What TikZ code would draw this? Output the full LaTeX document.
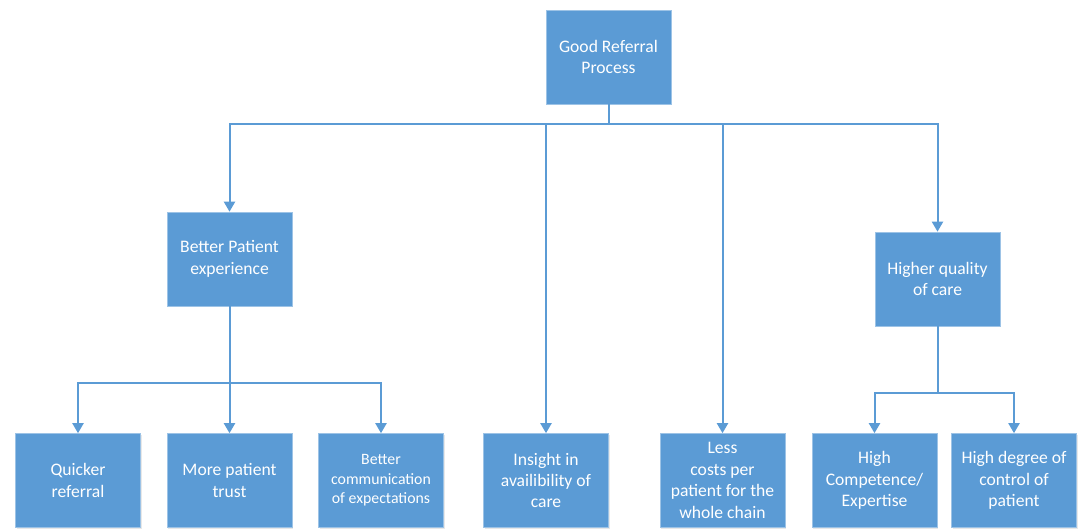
\documentclass[tikz,border=0pt]{standalone}
\usepackage{fontspec}
\setmainfont{Carlito}
\usetikzlibrary{arrows.meta,shadows}
\definecolor{bl}{HTML}{5B9BD5}
\begin{document}
\begin{tikzpicture}[x=1pt,y=-1pt,
 box/.style={fill=bl,draw=bl!60!white,line width=0.6pt,minimum width=125pt,minimum height=94pt,
   text=white,align=center,font=\fontsize{17.6}{21.4}\selectfont,inner sep=2pt,
   drop shadow={opacity=0.18,shadow xshift=1.2pt,shadow yshift=-1.2pt}},
 conn/.style={draw=bl,line width=2pt},
 arr/.style={conn,-{Triangle[width=11pt,length=10pt]}}]
\useasboundingbox (0,0) rectangle (1079,528);
\node[box] (root) at (608.5,57) {Good Referral\\Process};
\node[box] (bpe) at (229.5,259) {Better Patient\\experience};
\node[box] (hqc) at (937.5,279) {Higher quality\\of care};
\node[box] (qr) at (78,480.5) {Quicker\\referral};
\node[box] (mpt) at (229.5,480.5) {More patient\\trust};
\node[box,font=\fontsize{15.8}{19.5}\selectfont] (bc) at (381,480.5) {Better\\communication\\of expectations};
\node[box] (ins) at (546,480.5) {Insight in\\availibility of\\care};
\node[box] (lc) at (722.5,480.5) {Less\\costs per\\patient for the\\whole chain};
\node[box] (hc) at (874.5,480.5) {High\\Competence/\\Expertise};
\node[box] (hd) at (1014,480.5) {High degree of\\control of\\patient};
% top level connectors
\draw[conn] (root.south) -- ++(0,20) coordinate (j);
\draw[arr] (j) -| (bpe.north);
\draw[arr] (j) -| (hqc.north);
\draw[arr] (ins.north |- j) -- (ins.north);
\draw[arr] (lc.north |- j) -- (lc.north);
% left branch
\draw[conn] (bpe.south) -- ++(0,77) coordinate (k);
\draw[arr] (k) -| (qr.north);
\draw[arr] (k) -- (mpt.north);
\draw[arr] (k) -| (bc.north);
% right branch
\draw[conn] (hqc.south) -- ++(0,67) coordinate (m);
\draw[arr] (m) -| (hc.north);
\draw[arr] (m) -| (hd.north);
\end{tikzpicture}
\end{document}
